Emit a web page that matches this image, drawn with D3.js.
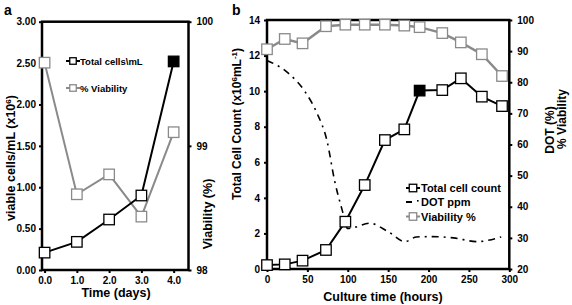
<!DOCTYPE html>
<html>
<head>
<meta charset="utf-8">
<script src="https://cdn.jsdelivr.net/npm/d3@7"></script>
<style>
  body { margin: 0; background: #fff; }
  svg { font-family: "Liberation Sans", Arial, sans-serif; font-weight: bold; }
</style>
</head>
<body>
<div id="chart"></div>
<script>
// Panel a: days
const daysA = [0, 1, 2, 3, 4]
const totalCellsA = [0.21, 0.34, 0.61, 0.90, 2.52]
const viabilityA = [99.67, 98.61, 98.77, 98.43, 99.11]
const ticksA_x = [0, 1, 2, 3, 4]
const ticksA_left = [0, 0.5, 1, 1.5, 2, 2.5, 3]
const ticksA_right = [98, 99, 100]

// Panel b: culture hours
const hoursB = [0, 22, 44, 73, 97, 121, 146, 170, 189, 217, 240, 266, 291]
const totalCellsB = [0.22, 0.26, 0.47, 1.07, 2.66, 4.72, 7.25, 7.85, 10.03, 10.06, 10.72, 9.69, 9.16]
const viabilityB = [90.6, 93.9, 92.5, 98.0, 98.5, 98.5, 98.5, 98.2, 97.7, 95.8, 92.8, 89.0, 82.0]
const dotHours = [0, 26, 47, 62, 74, 84, 93, 100, 110, 127, 150, 171, 185, 202, 231, 260, 290]
const dotPpm = [87, 83, 77, 70, 61.5, 48, 39, 33, 33.5, 34.7, 32, 28.8, 30.3, 30.4, 30, 28.8, 30.3]
const ticksB_x = [0, 50, 100, 150, 200, 250, 300]
const ticksB_left = [0, 2, 4, 6, 8, 10, 12, 14]
const ticksB_right = [20, 30, 40, 50, 60, 70, 80, 90, 100]

const GRAY = "#8a8a8a"
const W = 572, H = 305

const svg = d3.select("#chart").append("svg")
  .attr("width", W).attr("height", H)

function styleAxis(g, size) {
  g.select(".domain").remove()
  g.selectAll(".tick line").attr("stroke", "#000").attr("stroke-width", 2)
  g.selectAll(".tick text").attr("fill", "#000").attr("font-size", size || 10)
    .attr("font-family", "Liberation Sans, Arial, sans-serif").attr("font-weight", "bold")
}

function square(g, x, y, size, stroke, fill) {
  g.append("rect")
    .attr("x", x - size / 2).attr("y", y - size / 2)
    .attr("width", size).attr("height", size)
    .attr("fill", fill).attr("stroke", stroke).attr("stroke-width", 1.3)
}

// ---------- Panel a ----------
const xA = d3.scaleLinear().domain([-0.08, 4.46]).range([42, 188.5])
const yA = d3.scaleLinear().domain([0, 3]).range([270, 21.7])
const yA2 = d3.scaleLinear().domain([98, 100]).range([270, 21.7])

const gA = svg.append("g")

gA.append("g").attr("transform", "translate(0,270)")
  .call(d3.axisBottom(xA).tickValues(ticksA_x).tickFormat(d3.format(".1f")).tickSize(3).tickPadding(4))
  .call(styleAxis)
gA.append("g").attr("transform", "translate(42,0)")
  .call(d3.axisLeft(yA).tickValues(ticksA_left).tickFormat(d3.format(".2f")).tickSize(3).tickPadding(3))
  .call(styleAxis)
gA.append("g").attr("transform", "translate(188.5,0)")
  .call(d3.axisRight(yA2).tickValues(ticksA_right).tickFormat(d3.format("d")).tickSize(3).tickPadding(5))
  .call(styleAxis)

gA.append("rect")
  .attr("x", xA.range()[0]).attr("y", yA.range()[1])
  .attr("width", xA.range()[1] - xA.range()[0]).attr("height", yA.range()[0] - yA.range()[1])
  .attr("fill", "none").attr("stroke", "#000").attr("stroke-width", 2.5)

const lineTotA = d3.line().x((d, i) => xA(daysA[i])).y(d => yA(d))
const lineViaA = d3.line().x((d, i) => xA(daysA[i])).y(d => yA2(d))

gA.append("path").datum(viabilityA).attr("d", lineViaA)
  .attr("fill", "none").attr("stroke", GRAY).attr("stroke-width", 2)
gA.append("path").datum(totalCellsA).attr("d", lineTotA)
  .attr("fill", "none").attr("stroke", "#000").attr("stroke-width", 2)

viabilityA.forEach((v, i) => square(gA, xA(daysA[i]), yA2(v), 10.5, GRAY, "#fff"))
totalCellsA.forEach((v, i) => square(gA, xA(daysA[i]), yA(v), 10.5, "#000", i === 4 ? "#000" : "#fff"))

// legend a
const legA = [
  { label: "Total cells\\mL", color: "#000", y: 61 },
  { label: "% Viability", color: GRAY, y: 88 }
]
legA.forEach(item => {
  gA.append("line").attr("x1", 66).attr("x2", 80).attr("y1", item.y).attr("y2", item.y)
    .attr("stroke", item.color).attr("stroke-width", 2)
  square(gA, 73, item.y, 6.5, item.color, "#fff")
  gA.append("text").attr("x", 80).attr("y", item.y + 3.5)
    .attr("font-size", 9.5).text(item.label)
})

gA.append("text").attr("x", 4).attr("y", 15).attr("font-size", 14).text("a")
gA.append("text").attr("transform", "translate(15,158) rotate(-90)")
  .attr("text-anchor", "middle").attr("font-size", 12.5)
  .html('viable cells/mL (x10<tspan dy="-4" font-size="8">6</tspan><tspan dy="4">)</tspan>')
gA.append("text").attr("transform", "translate(212,214) rotate(-90)")
  .attr("text-anchor", "middle").attr("font-size", 12.5).text("Viability (%)")
gA.append("text").attr("x", 116).attr("y", 297)
  .attr("text-anchor", "middle").attr("font-size", 12.5).text("Time (days)")

// ---------- Panel b ----------
const xB = d3.scaleLinear().domain([0, 300]).range([267, 509.3])
const yB = d3.scaleLinear().domain([0, 14]).range([269, 20])
const yB2 = d3.scaleLinear().domain([20, 100]).range([269, 20])

const gB = svg.append("g")

gB.append("g").attr("transform", "translate(0,269)")
  .call(d3.axisBottom(xB).tickValues(ticksB_x).tickSize(3).tickPadding(4))
  .call(styleAxis)
gB.append("g").attr("transform", "translate(267,0)")
  .call(d3.axisLeft(yB).tickValues(ticksB_left).tickSize(3).tickPadding(4))
  .call(styleAxis)
gB.append("g").attr("transform", "translate(509.3,0)")
  .call(d3.axisRight(yB2).tickValues(ticksB_right).tickSize(3).tickPadding(5))
  .call(styleAxis)

gB.append("rect")
  .attr("x", xB.range()[0]).attr("y", yB.range()[1])
  .attr("width", xB.range()[1] - xB.range()[0]).attr("height", yB.range()[0] - yB.range()[1])
  .attr("fill", "none").attr("stroke", "#000").attr("stroke-width", 2.5)

const lineDot = d3.line().curve(d3.curveMonotoneX)
  .x((d, i) => xB(dotHours[i])).y(d => yB2(d))
gB.append("path").datum(dotPpm).attr("d", lineDot)
  .attr("fill", "none").attr("stroke", "#000").attr("stroke-width", 1.6)
  .attr("stroke-dasharray", "7,5,2,5")

const lineViaB = d3.line().x((d, i) => xB(hoursB[i])).y(d => yB2(d))
gB.append("path").datum(viabilityB).attr("d", lineViaB)
  .attr("fill", "none").attr("stroke", GRAY).attr("stroke-width", 2.5)
const lineTotB = d3.line().x((d, i) => xB(hoursB[i])).y(d => yB(d))
gB.append("path").datum(totalCellsB).attr("d", lineTotB)
  .attr("fill", "none").attr("stroke", "#000").attr("stroke-width", 2)

viabilityB.forEach((v, i) => square(gB, xB(hoursB[i]), yB2(v), 10.5, GRAY, "#fff"))
totalCellsB.forEach((v, i) => square(gB, xB(hoursB[i]), yB(v), 10.5, "#000", i === 8 ? "#000" : "#fff"))

// legend b
const legB = [
  { label: "Total cell count", color: "#000", y: 188, kind: "marker" },
  { label: "DOT ppm", color: "#000", y: 202, kind: "dashdot" },
  { label: "Viability %", color: GRAY, y: 216.5, kind: "marker" }
]
legB.forEach(item => {
  if (item.kind === "marker") {
    gB.append("line").attr("x1", 406).attr("x2", 420).attr("y1", item.y).attr("y2", item.y)
      .attr("stroke", item.color).attr("stroke-width", 2)
    square(gB, 413, item.y, 7.5, item.color, "#fff")
  } else {
    gB.append("line").attr("x1", 406).attr("x2", 412).attr("y1", item.y).attr("y2", item.y)
      .attr("stroke", "#000").attr("stroke-width", 2)
    gB.append("rect").attr("x", 417).attr("y", item.y - 2).attr("width", 1.6).attr("height", 1.6)
      .attr("fill", "#000")
  }
  gB.append("text").attr("x", 421).attr("y", item.y + 4)
    .attr("font-size", 11).text(item.label)
})

gB.append("text").attr("x", 232).attr("y", 15).attr("font-size", 14).text("b")
gB.append("text").attr("transform", "translate(241,124) rotate(-90)")
  .attr("text-anchor", "middle").attr("font-size", 12)
  .html('Total Cell Count (x10<tspan dy="-4" font-size="8">6</tspan><tspan dy="4">mL</tspan><tspan dy="-4" font-size="8">-1</tspan><tspan dy="4">)</tspan>')
gB.append("text").attr("transform", "translate(554,130) rotate(-90)")
  .attr("text-anchor", "middle").attr("font-size", 12).text("DOT (%)")
gB.append("text").attr("transform", "translate(566,119) rotate(-90)")
  .attr("text-anchor", "middle").attr("font-size", 12).text("% Viability")
gB.append("text").attr("x", 383).attr("y", 301)
  .attr("text-anchor", "middle").attr("font-size", 12.5).text("Culture time (hours)")
</script>
</body>
</html>
